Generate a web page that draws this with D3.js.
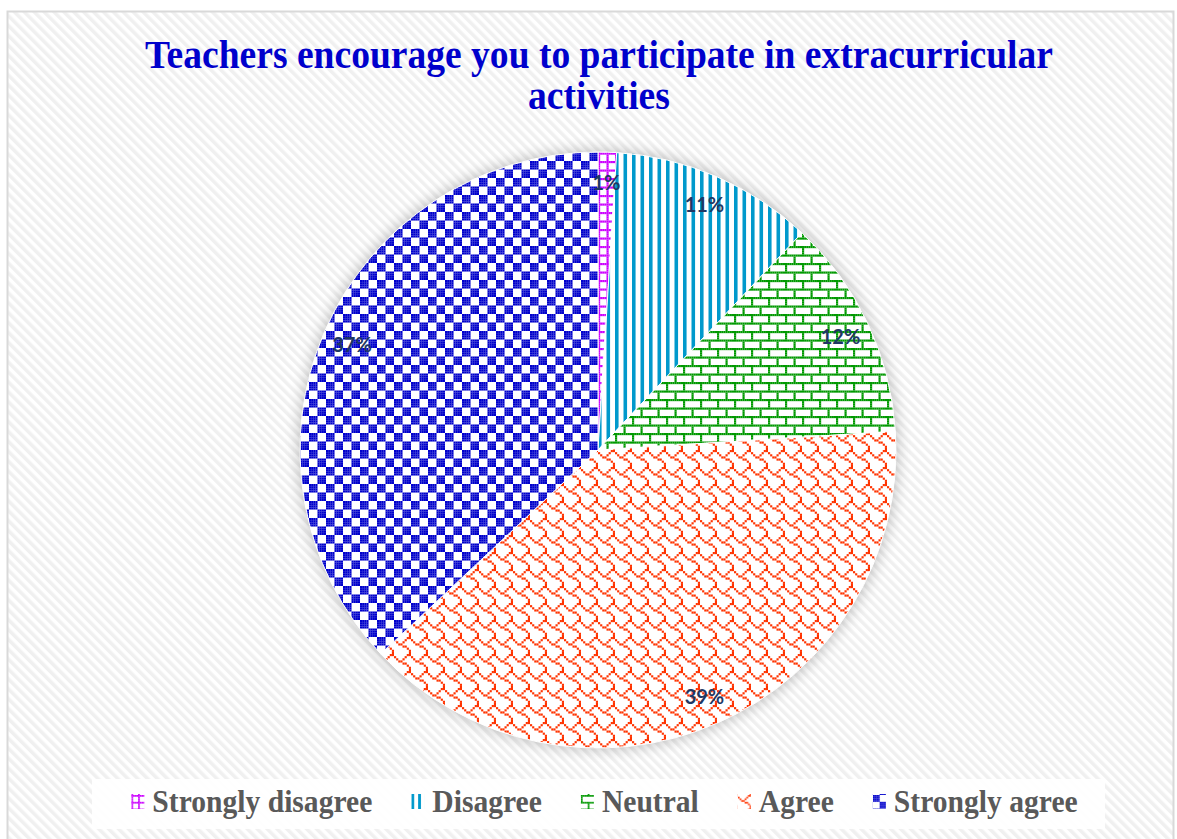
<!DOCTYPE html>
<html><head><meta charset="utf-8">
<script src="https://cdn.jsdelivr.net/npm/d3@7"></script>
<style>html,body{margin:0;padding:0;background:#fff;} svg{display:block}</style>
</head><body>
<svg id="chart" width="1177" height="839"></svg>
<script>
// ---- data ----
const titleLines = ["Teachers encourage you to participate in extracurricular", "activities"];
const categories = ["Strongly disagree", "Disagree", "Neutral", "Agree", "Strongly agree"];
const values = [1, 11, 12, 39, 37];
const labels = ["1%", "11%", "12%", "39%", "37%"];
const colors = ["#CC00FF", "#0099CC", "#009900", "#FF3300", "#0000CC"];
const patternKinds = ["smGrid", "dkVert", "horzBrick", "shingle", "lgCheck"];

// ---- pattern bitmaps (8x8) ----
const bitmaps = {
  smGrid:   ["11111111","10001000","10001000","10001000","11111111","10001000","10001000","10001000"],
  horzBrick:["11111111","10000000","10000000","10000000","11111111","00001000","00001000","00001000"],
  lgCheck:  ["11110000","11110000","11110000","11110000","00001111","00001111","00001111","00001111"],
  shingle:  ["00000011","10000100","01001000","00110000","00001100","00000010","00000001","00000001"]
};

const W = 1177, H = 839;
const svg = d3.select("#chart");
const defs = svg.append("defs");

function addPattern(id, kind, color, s) {
  const size = 8 * s;
  const p = defs.append("pattern").attr("id", id)
    .attr("patternUnits", "userSpaceOnUse").attr("width", size).attr("height", size);
  p.append("rect").attr("width", size).attr("height", size).attr("fill", "#fff");
  if (kind === "dkVert") {
    for (let k = 0; k < 2; k++) {
      p.append("rect").attr("x", k * size / 2).attr("y", 0)
        .attr("width", size * 0.21).attr("height", size).attr("fill", color);
    }
  } else {
    bitmaps[kind].forEach((row, y) => {
      for (let x = 0; x < 8; x++) if (row[x] === "1") {
        p.append("rect").attr("x", x * s).attr("y", y * s)
          .attr("width", s + 0.03).attr("height", s + 0.03).attr("fill", color);
      }
    });
  }
}
categories.forEach((c, i) => {
  addPattern("pat" + i, patternKinds[i], colors[i], 2.125);
  addPattern("leg" + i, patternKinds[i], colors[i], 1.7);
});

// background stripes
const bg = defs.append("pattern").attr("id", "bgStripe").attr("patternUnits", "userSpaceOnUse")
  .attr("width", 7).attr("height", 7).attr("patternTransform", "rotate(-45)");
bg.append("rect").attr("width", 7).attr("height", 7).attr("fill", "#ffffff");
bg.append("rect").attr("width", 3.5).attr("height", 7).attr("fill", "#f0f0f0");

const blur = defs.append("filter").attr("id", "shadow").attr("x", "-20%").attr("y", "-20%").attr("width", "140%").attr("height", "140%");
blur.append("feGaussianBlur").attr("stdDeviation", 7);

svg.append("rect").attr("width", W).attr("height", H).attr("fill", "#fff");
svg.append("rect").attr("x", 7.5).attr("y", 11.5).attr("width", 1166).attr("height", 840)
  .attr("fill", "url(#bgStripe)").attr("stroke", "#d9d9d9").attr("stroke-width", 2);

// ---- title ----
const titleG = svg.append("g");
const titleBase = [68, 109];
const tNodes = titleLines.map((t, i) => titleG.append("text")
  .attr("x", 599).attr("y", titleBase[i]).attr("text-anchor", "middle")
  .attr("font-family", "'Liberation Serif', 'DejaVu Serif', serif").attr("font-weight", "bold")
  .attr("font-size", 40).attr("fill", "#0000CC").text(t));
const w0 = tNodes[0].node().getComputedTextLength();
const factor = 908 / w0;
tNodes.forEach(n => {
  const w = n.node().getComputedTextLength();
  n.attr("textLength", w * factor).attr("lengthAdjust", "spacingAndGlyphs");
});

// ---- pie ----
const cx = 598, cy = 450, R = 298;
const pie = d3.pie().sort(null).value(d => d);
const arcs = pie(values);
const arc = d3.arc().innerRadius(0).outerRadius(R);
const labelArc = d3.arc().innerRadius(268).outerRadius(268);

const pg = svg.append("g").attr("transform", `translate(${cx},${cy})`);
pg.append("circle").attr("r", R + 2).attr("fill", "#000").attr("opacity", 0.22).attr("filter", "url(#shadow)");
pg.selectAll("path.slice").data(arcs).join("path").attr("class", "slice")
  .attr("d", arc).attr("fill", (d, i) => `url(#pat${i})`)
  .attr("stroke", "#fff").attr("stroke-width", 1);

pg.selectAll("text.lbl").data(arcs).join("text").attr("class", "lbl")
  .attr("transform", d => `translate(${labelArc.centroid(d)})`)
  .attr("text-anchor", "middle").attr("dominant-baseline", "central")
  .attr("font-family", "Lato, 'Open Sans', sans-serif").attr("font-weight", "bold")
  .attr("font-size", 20).attr("fill", "#1F3864")
  .text((d, i) => labels[i]);

// ---- legend ----
svg.append("rect").attr("x", 92).attr("y", 779).attr("width", 1013).attr("height", 50)
  .attr("fill", "#ffffff").attr("opacity", 0.92);
const lg = svg.append("g");
const items = categories.map((c, i) => {
  const g = lg.append("g");
  g.append("rect").attr("x", 0).attr("y", -1).attr("width", 13).attr("height", 15)
    .attr("fill", `url(#leg${i})`);
  const t = g.append("text").attr("x", 21).attr("y", 17)
    .attr("font-family", "'Liberation Serif', 'DejaVu Serif', serif").attr("font-weight", "bold")
    .attr("font-size", 31).attr("fill", "#595959").text(c);
  return { g, t, tw: t.node().getComputedTextLength() };
});
const lf = 220 / items[0].tw;
items.forEach(it => {
  it.tw = it.tw * lf;
  it.t.attr("textLength", it.tw).attr("lengthAdjust", "spacingAndGlyphs");
  it.w = 21 + it.tw;
});
const gap = 39;
const total = d3.sum(items, d => d.w) + gap * (items.length - 1);
let x = 604.5 - total / 2;
items.forEach(it => {
  it.g.attr("transform", `translate(${x},795)`);
  x += it.w + gap;
});
</script>
</body></html>
